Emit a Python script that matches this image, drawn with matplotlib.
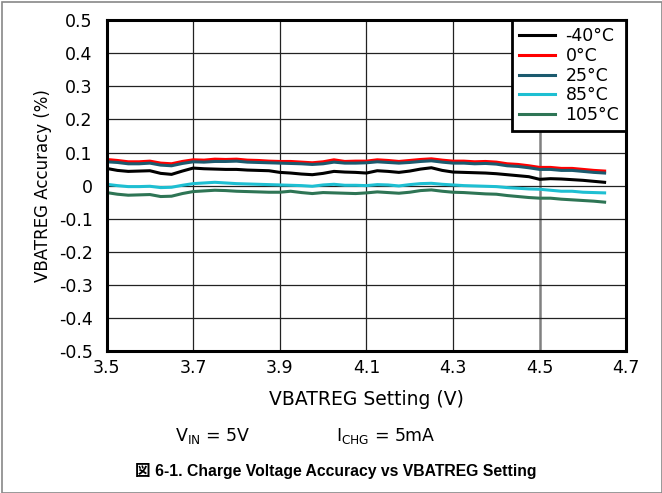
import numpy as np
import matplotlib.pyplot as plt
from matplotlib.patches import Rectangle

plt.rcParams['font.family'] = ['DejaVu Sans', 'Noto Sans CJK JP']

# VBATREG setting (V), 25 mV steps
vbatreg = [3.500, 3.525, 3.550, 3.575, 3.600, 3.625, 3.650, 3.675, 3.700, 3.725,
           3.750, 3.775, 3.800, 3.825, 3.850, 3.875, 3.900, 3.925, 3.950, 3.975,
           4.000, 4.025, 4.050, 4.075, 4.100, 4.125, 4.150, 4.175, 4.200, 4.225,
           4.250, 4.275, 4.300, 4.325, 4.350, 4.375, 4.400, 4.425, 4.450, 4.475,
           4.500, 4.525, 4.550, 4.575, 4.600, 4.625, 4.650]

acc_m40 = [0.052, 0.046, 0.043, 0.044, 0.045, 0.037, 0.034, 0.044, 0.053, 0.051,
           0.050, 0.049, 0.049, 0.047, 0.046, 0.045, 0.040, 0.038, 0.035, 0.033,
           0.037, 0.043, 0.041, 0.040, 0.038, 0.045, 0.043, 0.040, 0.044, 0.050,
           0.054, 0.046, 0.041, 0.040, 0.039, 0.038, 0.036, 0.033, 0.030, 0.027,
           0.019, 0.021, 0.020, 0.018, 0.016, 0.013, 0.010]
acc_0 = [0.079, 0.076, 0.072, 0.072, 0.074, 0.068, 0.066, 0.073, 0.078, 0.077,
         0.080, 0.079, 0.080, 0.077, 0.076, 0.074, 0.073, 0.073, 0.071, 0.069,
         0.072, 0.078, 0.073, 0.074, 0.074, 0.078, 0.076, 0.073, 0.076, 0.079,
         0.081, 0.077, 0.074, 0.074, 0.072, 0.073, 0.071, 0.066, 0.064, 0.060,
         0.055, 0.055, 0.052, 0.052, 0.049, 0.046, 0.044]
acc_25 = [0.072, 0.070, 0.066, 0.066, 0.068, 0.062, 0.060, 0.067, 0.072, 0.071,
          0.073, 0.073, 0.074, 0.071, 0.070, 0.069, 0.068, 0.067, 0.066, 0.064,
          0.066, 0.071, 0.068, 0.068, 0.069, 0.072, 0.070, 0.068, 0.070, 0.073,
          0.075, 0.071, 0.068, 0.068, 0.066, 0.067, 0.065, 0.060, 0.058, 0.054,
          0.049, 0.049, 0.046, 0.046, 0.043, 0.040, 0.038]
acc_85 = [0.004, 0.000, -0.003, -0.003, -0.002, -0.006, -0.005, 0.001, 0.006, 0.008,
          0.010, 0.008, 0.006, 0.005, 0.004, 0.003, 0.002, 0.001, 0.000, -0.002,
          0.002, 0.004, 0.001, 0.001, 0.000, 0.003, 0.002, -0.001, 0.003, 0.006,
          0.007, 0.004, 0.002, 0.000, -0.001, -0.002, -0.003, -0.006, -0.008, -0.010,
          -0.011, -0.014, -0.017, -0.017, -0.020, -0.021, -0.022]
acc_105 = [-0.021, -0.026, -0.029, -0.028, -0.027, -0.033, -0.032, -0.024, -0.018, -0.016,
           -0.014, -0.015, -0.017, -0.018, -0.019, -0.020, -0.020, -0.017, -0.021, -0.024,
           -0.021, -0.022, -0.023, -0.024, -0.022, -0.019, -0.021, -0.023, -0.020, -0.015,
           -0.013, -0.017, -0.020, -0.021, -0.023, -0.025, -0.026, -0.030, -0.033, -0.036,
           -0.038, -0.038, -0.041, -0.043, -0.045, -0.047, -0.050]

labels = ['-40°C', '0°C', '25°C', '85°C', '105°C']
colors = ['#000000', '#ff0000', '#1b5a6e', '#1ebfd2', '#2e7555']
x_ticks = [3.5, 3.7, 3.9, 4.1, 4.3, 4.5, 4.7]
y_ticks = [0.5, 0.4, 0.3, 0.2, 0.1, 0, -0.1, -0.2, -0.3, -0.4, -0.5]

fig = plt.figure(figsize=(6.62, 4.93), dpi=100)
ax = fig.add_axes([0.161, 0.288, 0.785, 0.671])

for series, lab, col in zip([acc_m40, acc_0, acc_25, acc_85, acc_105], labels, colors):
    ax.plot(vbatreg, series, color=col, lw=2.2, label=lab)

ax.set_xlim(3.5, 4.7)
ax.set_ylim(-0.5, 0.5)
ax.set_xticks(x_ticks)
ax.set_xticklabels([f'{t:.1f}' for t in x_ticks])
ax.set_yticks(y_ticks)
ax.set_yticklabels(['0' if t == 0 else f'{t:.1f}' for t in y_ticks])
ax.tick_params(length=0, labelsize=12.5)
ax.tick_params(axis='x', pad=6)
ax.tick_params(axis='y', pad=10)
ax.grid(True, color='#222222', lw=0.9)
# the 4.5 V grid line is drawn lighter and wider
ax.get_xgridlines()[5].set_color('#808080')
ax.get_xgridlines()[5].set_linewidth(1.8)
ax.set_axisbelow(True)
for sp in ax.spines.values():
    sp.set_linewidth(2.2)

ax.set_xlabel('VBATREG Setting (V)', fontsize=13.5, labelpad=9)
ax.set_ylabel('VBATREG Accuracy (%)', fontsize=12, labelpad=5)

leg = ax.legend(loc='upper right', fontsize=12.5, borderaxespad=0, fancybox=False,
                framealpha=1, edgecolor='black', handlelength=2.1, handletextpad=0.6,
                labelspacing=0.1, borderpad=0.4)
leg.get_frame().set_linewidth(2)

fig.text(0.264, 0.105, r'V$_{\mathregular{IN}}$ = 5V', fontsize=12.5)
fig.text(0.508, 0.105, r'I$_{\mathregular{CHG}}$ = 5mA', fontsize=12.5)
fig.text(0.204, 0.035, '図 6-1. Charge Voltage Accuracy vs VBATREG Setting',
         fontsize=11.3, fontweight='bold', family=['Liberation Sans', 'Noto Sans CJK JP'])

fig.patches.append(Rectangle((0.003, 0.0), 0.997, 0.995, transform=fig.transFigure,
                             fill=False, edgecolor='#888888', lw=1.2))

fig.savefig('out.png', dpi=100)
